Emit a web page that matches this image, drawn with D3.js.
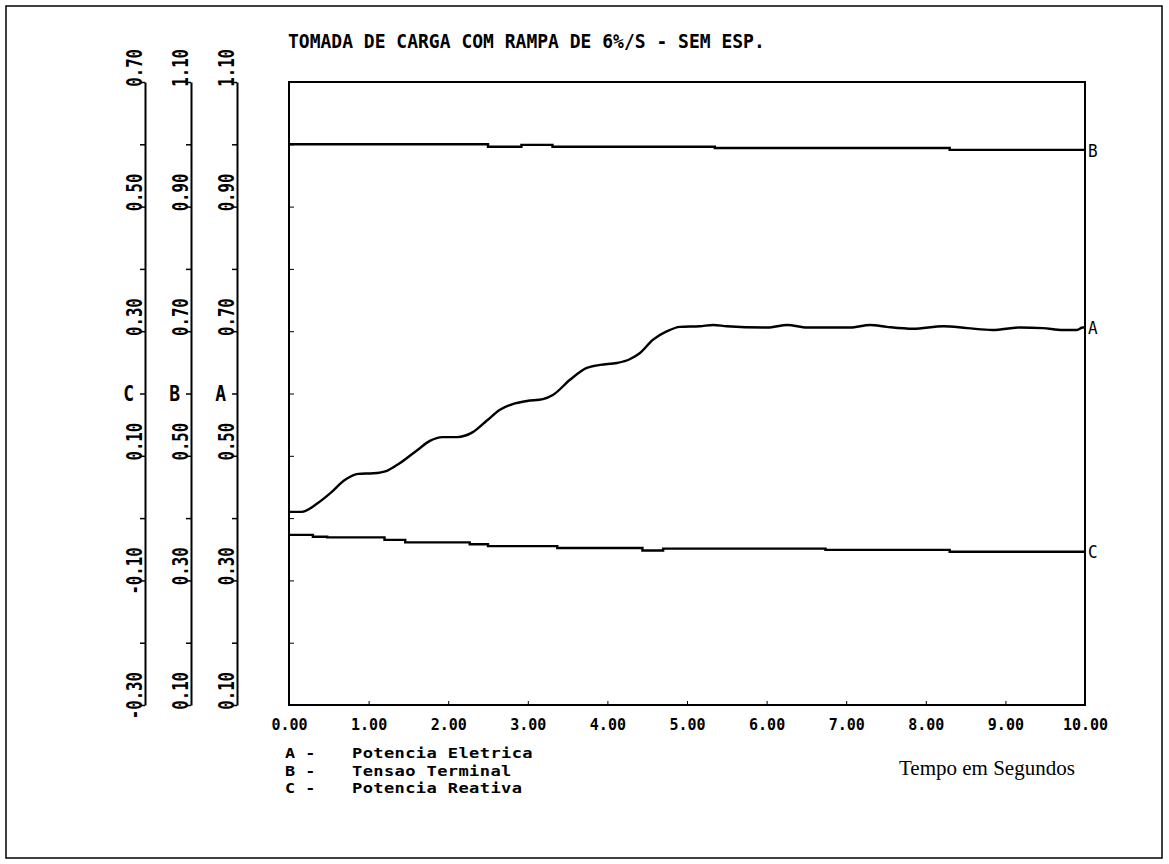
<!DOCTYPE html>
<html>
<head>
<meta charset="utf-8">
<script src="https://cdnjs.cloudflare.com/ajax/libs/d3/7.8.5/d3.min.js"></script>
<style>
  body { margin: 0; background: #fff; }
  svg { display: block; }
  .mono { font-family: "DejaVu Sans Mono", monospace; font-weight: bold; fill: #000; }
</style>
</head>
<body>
<script>

// data
var title = "TOMADA DE CARGA COM RAMPA DE 6%/S - SEM ESP.";
var xLabel = "Tempo em Segundos";

var timeTicks = [0, 1, 2, 3, 4, 5, 6, 7, 8, 9, 10];

// labelled ticks of the three left axes
var ticksA = [0.10, 0.30, 0.50, 0.70, 0.90, 1.10];
var ticksB = [0.10, 0.30, 0.50, 0.70, 0.90, 1.10];
var ticksC = [-0.30, -0.10, 0.10, 0.30, 0.50, 0.70];

var legendKeys = ["A", "B", "C"];
var legendNames = ["Potencia Eletrica", "Tensao Terminal", "Potencia Reativa"];

// A - potencia eletrica
var timeA = [0, 0.16, 0.35, 0.52, 0.70, 0.87, 1.06, 1.23, 1.39, 1.61,
    1.77, 1.93, 2.11, 2.31, 2.49, 2.65, 2.81, 2.99, 3.19, 3.32,
    3.53, 3.74, 3.91, 4.12, 4.28, 4.41, 4.57, 4.75, 4.91, 5.16,
    5.33, 5.50, 6.01, 6.26, 6.51, 7.05, 7.30, 7.51, 7.84, 8.22,
    8.52, 8.84, 9.18, 9.47, 9.72, 9.90, 9.97, 10.0];
var potA = [0.410, 0.410, 0.423, 0.440, 0.461, 0.471, 0.472, 0.476, 0.488, 0.509,
    0.524, 0.530, 0.530, 0.538, 0.557, 0.574, 0.583, 0.588, 0.591, 0.598,
    0.622, 0.641, 0.646, 0.649, 0.655, 0.665, 0.686, 0.700, 0.707, 0.708,
    0.710, 0.708, 0.706, 0.710, 0.706, 0.706, 0.710, 0.707, 0.704, 0.708,
    0.705, 0.702, 0.706, 0.705, 0.702, 0.702, 0.706, 0.706];

// B - tensao terminal (steps)
var timeB = [0, 2.50, 2.92, 3.31, 5.35, 8.30, 10];
var tensB = [1.000, 0.996, 0.999, 0.996, 0.994, 0.991, 0.991];

// C - potencia reativa (steps)
var timeC = [0, 0.30, 0.48, 1.20, 1.46, 2.27, 2.50, 3.37, 4.44, 4.70, 6.74, 8.30, 10];
var potC = [-0.027, -0.030, -0.031, -0.035, -0.039, -0.042, -0.045, -0.048, -0.052, -0.049, -0.051, -0.054, -0.054];

var width = 1169, height = 864;
var plot = { left: 289, right: 1085, top: 82, bottom: 705 };

var svg = d3.select("body")
    .append("svg")
    .attr("width", width)
    .attr("height", height);

// outer border of the page
svg.append("rect")
    .attr("x", 6).attr("y", 6)
    .attr("width", 1156).attr("height", 852)
    .attr("fill", "none")
    .attr("stroke", "#000")
    .attr("stroke-width", 1.5);

var x = d3.scaleLinear().domain([0, 10]).range([plot.left, plot.right]);
var yA = d3.scaleLinear().domain([0.1, 1.1]).range([plot.bottom, plot.top]);
var yB = d3.scaleLinear().domain([0.1, 1.1]).range([plot.bottom, plot.top]);
var yC = d3.scaleLinear().domain([-0.3, 0.7]).range([plot.bottom, plot.top]);

// minor ticks every 0.1
function minorTicks(scale) {
    var dom = scale.domain();
    return d3.range(0, 11).map(function (i) { return dom[0] + i * (dom[1] - dom[0]) / 10; });
}

svg.append("text")
    .attr("class", "mono")
    .attr("transform", "translate(288,48) scale(1,1.12)")
    .style("font-size", "18px")
    .text(title);

// three left axes
var leftAxes = [
    { scale: yC, ticks: ticksC, key: "C", pos: 145, mid: 0.20 },
    { scale: yB, ticks: ticksB, key: "B", pos: 191, mid: 0.60 },
    { scale: yA, ticks: ticksA, key: "A", pos: 237, mid: 0.60 }
];

leftAxes.forEach(function (a) {
    var g = svg.append("g")
        .attr("transform", "translate(" + a.pos + ",0)")
        .call(d3.axisLeft(a.scale)
            .tickValues(minorTicks(a.scale))
            .tickSize(5)
            .tickSizeOuter(0)
            .tickFormat(""));
    g.select(".domain").attr("stroke-width", 2);
    g.selectAll(".tick line").attr("stroke-width", 1.5);

    // rotated labels, stretched to look like the plotter font
    g.selectAll(".lbl")
        .data(a.ticks)
        .enter().append("text")
        .attr("class", "lbl mono")
        .attr("transform", function (d) {
            return "translate(-3," + (a.scale(d) - 33) + ") rotate(-90) scale(0.98,1.3)";
        })
        .attr("text-anchor", "end")
        .style("font-size", "16px")
        .text(function (d) { return d3.format(".2f")(d).replace("−", "-"); });

    g.append("text")
        .attr("class", "mono")
        .attr("transform", "translate(-11," + a.scale(a.mid) + ") scale(1,1.2)")
        .attr("dy", "0.36em")
        .attr("text-anchor", "end")
        .style("font-size", "18px")
        .text(a.key);
});

// plot frame
svg.append("rect")
    .attr("x", plot.left).attr("y", plot.top)
    .attr("width", plot.right - plot.left)
    .attr("height", plot.bottom - plot.top)
    .attr("fill", "none")
    .attr("stroke", "#000")
    .attr("stroke-width", 2);

// inner ticks on the left side of the frame
var gFrame = svg.append("g")
    .attr("transform", "translate(" + plot.left + ",0)")
    .call(d3.axisRight(yA).tickValues(minorTicks(yA)).tickSize(5).tickFormat(""));
gFrame.select(".domain").remove();

// time axis
var gX = svg.append("g")
    .attr("transform", "translate(0," + plot.bottom + ")")
    .call(d3.axisBottom(x)
        .tickValues(timeTicks)
        .tickSize(-4)
        .tickPadding(14)
        .tickFormat(d3.format(".2f")));
gX.select(".domain").remove();
gX.selectAll("text")
    .attr("class", "mono")
    .style("font-size", "15px");

svg.append("text")
    .attr("x", 899)
    .attr("y", 775)
    .style("font-family", "'Liberation Serif', 'Times New Roman', serif")
    .style("font-size", "21px")
    .text(xLabel);

// data lines
var lineA = d3.line()
    .x(function (d) { return x(d[0]); })
    .y(function (d) { return yA(d[1]); })
    .curve(d3.curveMonotoneX);

var lineB = d3.line()
    .x(function (d) { return x(d[0]); })
    .y(function (d) { return yB(d[1]); })
    .curve(d3.curveStepAfter);

var lineC = d3.line()
    .x(function (d) { return x(d[0]); })
    .y(function (d) { return yC(d[1]); })
    .curve(d3.curveStepAfter);

var series = [
    { key: "A", pts: d3.zip(timeA, potA), line: lineA, scale: yA },
    { key: "B", pts: d3.zip(timeB, tensB), line: lineB, scale: yB },
    { key: "C", pts: d3.zip(timeC, potC), line: lineC, scale: yC }
];

series.forEach(function (s) {
    svg.append("path")
        .attr("d", s.line(s.pts))
        .attr("fill", "none")
        .attr("stroke", "#000")
        .attr("stroke-width", 2.4);

    var last = s.pts[s.pts.length - 1];
    svg.append("text")
        .attr("class", "mono")
        .attr("transform", "translate(" + (x(last[0]) + 3) + "," + s.scale(last[1]) + ") scale(1,1.15)")
        .attr("dy", "0.36em")
        .style("font-size", "16px")
        .style("font-weight", "normal")
        .text(s.key);
});

// legend
var legend = svg.append("g")
    .attr("class", "legend");

legendKeys.forEach(function (k, i) {
    var yPos = 758 + i * 17.5;
    legend.append("text")
        .attr("class", "mono")
        .attr("transform", "translate(285," + yPos + ") scale(1.2,1)")
        .style("font-size", "14px")
        .text(k + " -");
    legend.append("text")
        .attr("class", "mono")
        .attr("transform", "translate(352," + yPos + ") scale(1.22,1)")
        .style("font-size", "14px")
        .style("letter-spacing", "0.3px")
        .text(legendNames[i]);
});

</script>
</body>
</html>
